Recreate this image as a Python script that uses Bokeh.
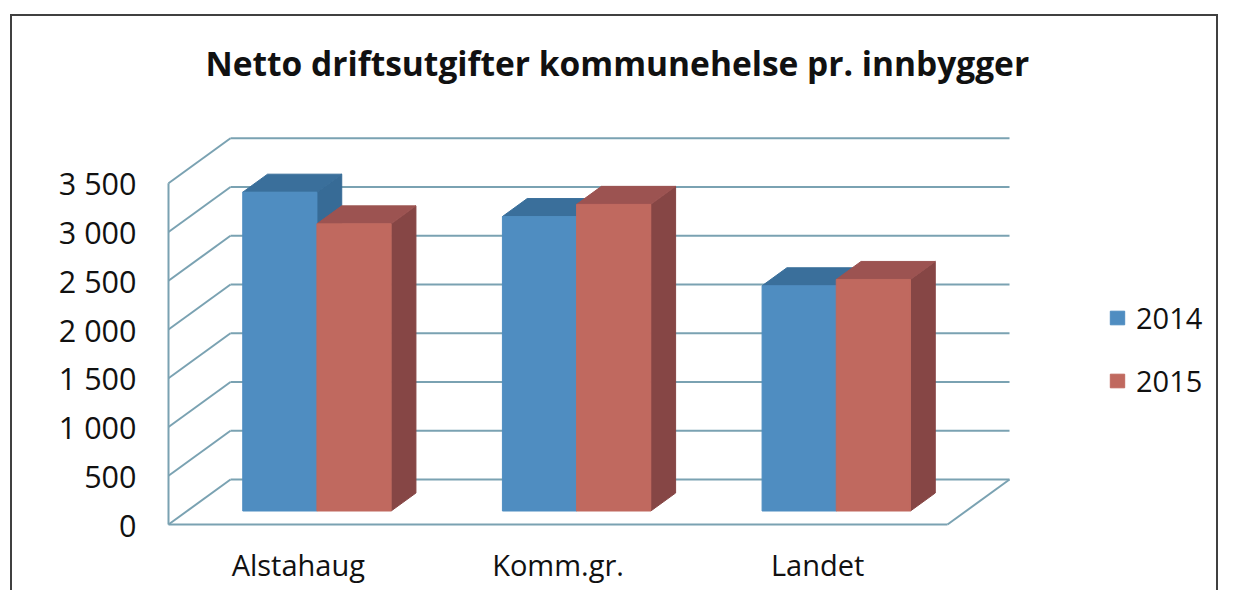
from bokeh.plotting import figure
from bokeh.models import FixedTicker, Legend, LegendItem, Title
from bokeh.embed import file_html
from bokeh.resources import INLINE

# ---------------- data ----------------
categories = ["Alstahaug", "Komm.gr.", "Landet"]
series_names = ["2014", "2015"]
values_2014 = [3270, 3020, 2310]
values_2015 = [2945, 3145, 2375]
y_ticks = [0, 500, 1000, 1500, 2000, 2500, 3000, 3500]
y_tick_labels = ["0", "500", "1 000", "1 500", "2 000", "2 500", "3 000", "3 500"]
title_text = "Netto driftsutgifter kommunehelse pr. innbygger"

# ---------------- layout / style ----------------
W, H = 1208, 576
MB_LEFT, MB_RIGHT, MB_TOP, MB_BOTTOM = 151, 0, 118, 65
PX_PER_CAT = 259.67          # pixels per category along the floor
PX_PER_VAL = 0.0975          # pixels per value unit
ORIGIN_DX_PX = 5             # front-left corner offset from frame left
ORIGIN_DY_PX = 3             # front floor offset from frame bottom
DEPTH_DX_PX, DEPTH_DY_PX = 62, 45   # projection of the full floor depth
DF, DB = 0.30, 0.70          # bar depth (fraction of floor depth)
GAP = 1.5                    # gap width relative to a bar

frame_w = W - MB_LEFT - MB_RIGHT
frame_h = H - MB_TOP - MB_BOTTOM
x_start = -ORIGIN_DX_PX / PX_PER_CAT
x_end = x_start + frame_w / PX_PER_CAT
y_start = -ORIGIN_DY_PX / PX_PER_VAL
y_end = y_start + frame_h / PX_PER_VAL

DX = DEPTH_DX_PX / PX_PER_CAT
DY = DEPTH_DY_PX / PX_PER_VAL
BAR_W = 1.0 / (len(series_names) + GAP)

GRID = "#7AA2B2"
BLUE = ("#4F8DC1", "#3A6F9B", "#376B96")     # front, top, side
RED = ("#C0695F", "#9C5351", "#864645")
FONT = "Open Sans"

p = figure(width=W, height=H, output_backend="svg", toolbar_location=None,
           title=None,
           x_range=(x_start, x_end), y_range=(y_start, y_end),
           min_border_left=MB_LEFT, min_border_right=MB_RIGHT,
           min_border_top=MB_TOP, min_border_bottom=MB_BOTTOM,
           background_fill_color="white", border_fill_color="white",
           outline_line_color=None,
           styles={"border": "2px solid #404040", "border-bottom": "none",
                   "margin-left": "10px", "margin-top": "14px"})

p.xgrid.visible = False
p.ygrid.visible = False

# title (a thin spacer sits between the title and the plot area)
spacer = Title(text=" ", text_font_size="1px", standoff=41)
p.add_layout(spacer, "above")
main_title = Title(text=title_text, text_font=FONT, text_font_size="33.5px",
                   text_font_style="bold", text_color="#111111",
                   align="left", offset=42, standoff=10)
p.add_layout(main_title, "above")

# axes
for ax in (p.xaxis[0], p.yaxis[0]):
    ax.axis_line_color = None
    ax.major_tick_line_color = None
    ax.minor_tick_line_color = None
    ax.major_label_text_font = FONT
    ax.major_label_text_color = "#111111"

p.yaxis.major_label_text_font_size = "30.5px"
p.yaxis.ticker = FixedTicker(ticks=y_ticks)
p.yaxis.major_label_overrides = {t: l for t, l in zip(y_ticks, y_tick_labels)}
p.yaxis.major_label_standoff = 21

p.xaxis.major_label_text_font_size = "29px"
cat_centers = [i + 0.5 for i in range(len(categories))]
p.xaxis.ticker = FixedTicker(ticks=cat_centers)
p.xaxis.major_label_overrides = {c: n for c, n in zip(cat_centers, categories)}
p.xaxis.major_label_standoff = 11

# walls, floor and gridlines
n = len(categories)
top = y_ticks[-1]
xs, ys = [], []
for v in y_ticks:
    xs.append([0, DX]); ys.append([v, v + DY])
    xs.append([DX, n + DX]); ys.append([v + DY, v + DY])
xs.append([0, 0]); ys.append([0, top])
xs.append([0, n]); ys.append([0, 0])
xs.append([n, n + DX]); ys.append([0, DY])
p.multi_line(xs, ys, line_color=GRID, line_width=2)

# bars
legend_items = []
for s_idx, (name, vals, cols) in enumerate(zip(series_names, [values_2014, values_2015], [BLUE, RED])):
    offset = 0.5 - BAR_W + s_idx * BAR_W
    side_xs, side_ys, top_xs, top_ys = [], [], [], []
    fx, fb, ft = [], [], []
    for i, v in enumerate(vals):
        x0 = i + offset
        x1 = x0 + BAR_W
        side_xs.append([x1 + DF * DX, x1 + DB * DX, x1 + DB * DX, x1 + DF * DX])
        side_ys.append([DF * DY, DB * DY, v + DB * DY, v + DF * DY])
        top_xs.append([x0 + DF * DX, x1 + DF * DX, x1 + DB * DX, x0 + DB * DX])
        top_ys.append([v + DF * DY, v + DF * DY, v + DB * DY, v + DB * DY])
        fx.append((x0 + x1) / 2 + DF * DX)
        fb.append(DF * DY)
        ft.append(v + DF * DY)
    p.patches(side_xs, side_ys, fill_color=cols[2], line_color=cols[2], line_width=1)
    p.patches(top_xs, top_ys, fill_color=cols[1], line_color=cols[1], line_width=1)
    r = p.vbar(x=fx, width=BAR_W, bottom=fb, top=ft, fill_color=cols[0], line_color=cols[0], line_width=1)
    legend_items.append(LegendItem(label=name, renderers=[r]))

legend = Legend(items=legend_items, location=(945, 127),
                label_text_font=FONT, label_text_font_size="29px", label_text_color="#111111",
                glyph_width=18, glyph_height=17, label_standoff=10, spacing=24,
                padding=0, margin=0, border_line_color=None, background_fill_alpha=0)
p.add_layout(legend)

open("out.html", "w").write(file_html(p, INLINE))
